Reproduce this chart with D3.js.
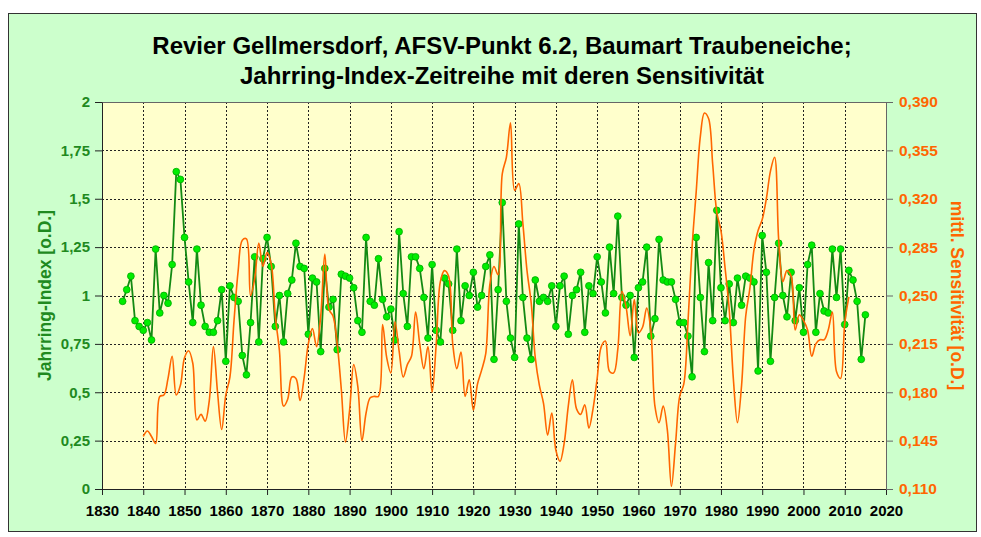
<!DOCTYPE html>
<html>
<head>
<meta charset="utf-8">
<script src="https://cdn.jsdelivr.net/npm/d3@7"></script>
<style>
  body { margin: 0; background: #fff; }
  svg { display: block; font-family: "Liberation Sans", Arial, sans-serif; }
</style>
</head>
<body>
<svg width="981" height="537"></svg>
<script>
// Jahrring-Index, one value per year from 1835
const indexStart = 1835;
const indexValues = [
  0.97, 1.03, 1.10, 0.87, 0.84,
  0.82, 0.86, 0.77, 1.24, 0.91, 1.00, 0.96, 1.16, 1.64, 1.60,
  1.30, 1.07, 0.86, 1.24, 0.95, 0.84, 0.81, 0.81, 0.87, 1.03,
  0.66, 1.05, 0.99, 0.97, 0.69, 0.59, 0.86, 1.20, 0.76, 1.19,
  1.30, 1.15, 0.84, 1.00, 0.76, 1.01, 1.08, 1.27, 1.15, 1.14,
  0.80, 1.09, 1.07, 0.71, 1.14, 0.94, 0.98, 0.72, 1.11, 1.10,
  1.09, 1.04, 0.87, 0.81, 1.30, 0.97, 0.95, 1.19, 0.98, 0.89,
  0.93, 0.77, 1.33, 1.01, 0.84, 1.20, 1.20, 1.14, 0.99, 0.78,
  1.16, 0.82, 0.76, 1.09, 1.06, 0.82, 1.24, 0.87, 1.05, 1.00,
  1.12, 0.94, 1.00, 1.15, 1.21, 0.67, 1.03, 1.48, 0.97, 0.78,
  0.68, 1.37, 0.99, 0.78, 0.67, 1.08, 0.97, 0.99, 0.97, 1.05,
  0.84, 1.05, 1.10, 0.80, 1.00, 1.03, 1.12, 0.81, 1.05, 1.01,
  1.20, 1.07, 0.91, 1.25, 1.01, 1.41, 0.99, 0.95, 1.00, 0.68,
  1.04, 1.07, 1.25, 0.79, 0.88, 1.29, 1.08, 1.07, 1.07, 0.98,
  0.86, 0.86, 0.79, 0.58, 1.30, 0.99, 0.71, 1.17, 0.87, 1.44,
  1.04, 0.87, 1.06, 0.86, 1.09, 0.95, 1.10, 1.09, 1.07, 0.61,
  1.31, 1.12, 0.66, 0.99, 1.27, 1.00, 0.89, 1.12, 0.87, 1.04,
  0.81, 1.16, 1.26, 0.81, 1.01, 0.92, 0.91, 1.24, 0.99, 1.24,
  0.85, 1.13, 1.08, 0.97, 0.67, 0.90
];

// mittlere Sensitivitaet, one value per year from 1840
const sensStart = 1840;
const sensValues = [
  0.148, 0.152, 0.148, 0.143, 0.177, 0.178, 0.190, 0.206, 0.178, 0.185,
  0.205, 0.210, 0.201, 0.160, 0.164, 0.159, 0.174, 0.213, 0.180, 0.153,
  0.178, 0.191, 0.232, 0.268, 0.290, 0.291, 0.250, 0.262, 0.288, 0.271,
  0.281, 0.273, 0.235, 0.210, 0.170, 0.175, 0.191, 0.190, 0.174, 0.191,
  0.215, 0.226, 0.213, 0.235, 0.280, 0.240, 0.235, 0.215, 0.182, 0.144,
  0.167, 0.200, 0.184, 0.145, 0.165, 0.176, 0.177, 0.177, 0.229, 0.205,
  0.194, 0.231, 0.210, 0.191, 0.200, 0.206, 0.238, 0.215, 0.197, 0.213,
  0.180, 0.215, 0.260, 0.268, 0.264, 0.215, 0.197, 0.209, 0.177, 0.189,
  0.167, 0.186, 0.196, 0.208, 0.258, 0.271, 0.265, 0.338, 0.350, 0.375,
  0.326, 0.331, 0.302, 0.268, 0.245, 0.205, 0.185, 0.172, 0.149, 0.165,
  0.138, 0.130, 0.143, 0.170, 0.189, 0.168, 0.164, 0.171, 0.154, 0.168,
  0.190, 0.213, 0.217, 0.195, 0.194, 0.211, 0.253, 0.242, 0.221, 0.247,
  0.223, 0.227, 0.241, 0.225, 0.170, 0.158, 0.170, 0.153, 0.112, 0.143,
  0.177, 0.186, 0.230, 0.285, 0.325, 0.365, 0.382, 0.378, 0.345, 0.310,
  0.297, 0.270, 0.240, 0.190, 0.158, 0.185, 0.235, 0.255, 0.283, 0.297,
  0.305, 0.320, 0.340, 0.350, 0.290, 0.260, 0.268, 0.264, 0.225, 0.236,
  0.232, 0.225, 0.206, 0.215, 0.218, 0.218, 0.225, 0.238, 0.195, 0.190,
  0.230, 0.249
];

const xTicks = d3.range(1830, 2021, 10);
const leftTicks = [0, 0.25, 0.5, 0.75, 1, 1.25, 1.5, 1.75, 2];
const rightTicks = [0.110, 0.145, 0.180, 0.215, 0.250, 0.285, 0.320, 0.355, 0.390];

const titleLines = ["Revier Gellmersdorf, AFSV-Punkt 6.2, Baumart Traubeneiche;",
                    "Jahrring-Index-Zeitreihe mit deren Sensitivität"];

const GREEN = "#1f8a1f",
      ORANGE = "#ff6600";

const de = d3.formatLocale({decimal: ",", thousands: ".", grouping: [3], currency: ["", " €"]});

const plot = {left: 102, right: 886, top: 102, bottom: 489};

const svg = d3.select("svg");

//--------------FRAME-----------------------------------------
svg.append("rect")
   .attr("x", 8.5).attr("y", 13.5)
   .attr("width", 968).attr("height", 518)
   .attr("fill", "#ccffcc")
   .attr("stroke", "#333");

svg.append("rect")
   .attr("x", plot.left).attr("y", plot.top)
   .attr("width", plot.right - plot.left)
   .attr("height", plot.bottom - plot.top)
   .attr("fill", "#ffffcc");

//--------------SCALES----------------------------------------
const x = d3.scaleLinear().domain([1830, 2020]).range([plot.left, plot.right]);
const yL = d3.scaleLinear().domain([0, 2]).range([plot.bottom, plot.top]);
const yR = d3.scaleLinear().domain([0.110, 0.390]).range([plot.bottom, plot.top]);

//--------------GRID------------------------------------------
const grid = svg.append("g")
   .attr("stroke", "#222")
   .attr("stroke-width", 1)
   .attr("stroke-dasharray", "2,2");

grid.selectAll("line.v")
    .data(xTicks.slice(1, -1))
    .enter().append("line")
    .attr("x1", d => Math.round(x(d)) + 0.5).attr("x2", d => Math.round(x(d)) + 0.5)
    .attr("y1", plot.top).attr("y2", plot.bottom);

grid.selectAll("line.h")
    .data(leftTicks.slice(1, -1))
    .enter().append("line")
    .attr("x1", plot.left).attr("x2", plot.right)
    .attr("y1", d => Math.round(yL(d)) + 0.5).attr("y2", d => Math.round(yL(d)) + 0.5);

svg.append("line")
   .attr("x1", plot.left).attr("x2", plot.right)
   .attr("y1", plot.top + 0.5).attr("y2", plot.top + 0.5)
   .attr("stroke", "#666");

//--------------AXES------------------------------------------
const axisX = svg.append("g")
   .attr("transform", `translate(0,${plot.bottom})`)
   .call(d3.axisBottom(x).tickValues(xTicks).tickFormat(d3.format("d")).tickSize(6).tickSizeOuter(0));
axisX.selectAll("text")
   .attr("dy", "1.2em")
   .style("font-size", "15px").style("font-weight", "bold").attr("fill", "#000");
axisX.selectAll("line, path").attr("stroke", "#222");

const axisL = svg.append("g")
   .attr("transform", `translate(${plot.left},0)`)
   .call(d3.axisLeft(yL).tickValues(leftTicks).tickFormat(de.format("~g")).tickSize(7).tickSizeOuter(0));
axisL.selectAll("text")
   .attr("x", -12)
   .style("font-size", "15px").style("font-weight", "bold").attr("fill", GREEN);
axisL.selectAll("line, path").attr("stroke", "#222");

const axisR = svg.append("g")
   .attr("transform", `translate(${plot.right},0)`)
   .call(d3.axisRight(yR).tickValues(rightTicks).tickFormat(de.format(".3f")).tickSize(7).tickSizeOuter(0));
axisR.selectAll("text")
   .attr("x", 13)
   .style("font-size", "15.5px").style("font-weight", "bold").attr("fill", ORANGE);
axisR.selectAll("line, path").attr("stroke", "#666");

//--------------TITLES----------------------------------------
svg.selectAll("text.title")
   .data(titleLines)
   .enter().append("text")
   .attr("class", "title")
   .attr("x", 502)
   .attr("y", (d, i) => 54 + i * 30)
   .attr("text-anchor", "middle")
   .style("font-size", "24px").style("font-weight", "bold")
   .text(d => d);

svg.append("text")
   .attr("transform", `translate(51,${(plot.top + plot.bottom) / 2}) rotate(-90)`)
   .attr("text-anchor", "middle")
   .style("font-size", "17.5px").style("font-weight", "bold")
   .attr("fill", GREEN)
   .text("Jahrring-Index [o.D.]");

svg.append("text")
   .attr("transform", `translate(951,${(plot.top + plot.bottom) / 2}) rotate(90)`)
   .attr("text-anchor", "middle")
   .style("font-size", "17.5px").style("font-weight", "bold")
   .attr("fill", ORANGE)
   .text("mittl. Sensitivität [o.D.]");

//--------------SERIES----------------------------------------
const indexData = indexValues.map((v, i) => ({year: indexStart + i, value: v}));
const sensData = sensValues.map((v, i) => ({year: sensStart + i, value: v}));

svg.append("path")
   .datum(indexData)
   .attr("fill", "none")
   .attr("stroke", "#138a13")
   .attr("stroke-width", 1.8)
   .attr("stroke-linejoin", "round")
   .attr("d", d3.line().x(d => x(d.year)).y(d => yL(d.value)));

svg.selectAll("circle.pt")
   .data(indexData)
   .enter().append("circle")
   .attr("class", "pt")
   .attr("cx", d => x(d.year))
   .attr("cy", d => yL(d.value))
   .attr("r", 3.4)
   .attr("fill", "#00ee00")
   .attr("stroke", "#00a800")
   .attr("stroke-width", 0.8);

svg.append("path")
   .datum(sensData)
   .attr("fill", "none")
   .attr("stroke", ORANGE)
   .attr("stroke-width", 1.6)
   .attr("stroke-linejoin", "round")
   .attr("d", d3.line().curve(d3.curveCatmullRom.alpha(0.5)).x(d => x(d.year)).y(d => yR(d.value)));
</script>
</body>
</html>
